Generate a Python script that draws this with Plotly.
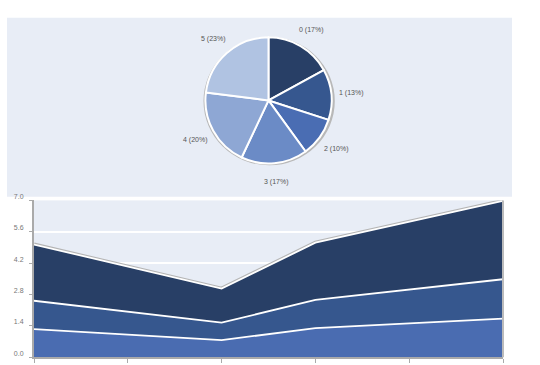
import math
import plotly.graph_objects as go

W, H = 540, 365

# ---- data ----
pie_labels = ["0", "1", "2", "3", "4", "5"]
pie_values = [17, 13, 10, 17, 20, 23]
pie_colors = ["#283f66", "#36578f", "#4a6db3", "#6b8bc6", "#8ea7d4", "#b0c3e2"]

area_x = [0, 2, 3, 5]
series1 = [1.25, 0.76, 1.30, 1.72]
series2 = [1.27, 0.78, 1.26, 1.76]
series3 = [2.51, 1.52, 2.55, 3.50]
area_colors = ["#4a6cb1", "#36578e", "#283f66"]

y_ticks = [0.0, 1.4, 2.8, 4.2, 5.6, 7.0]
x_ticks = [0, 1, 2, 3, 4, 5]


def px(x):
    return x / W


def py(y):
    return 1 - y / H


# pie geometry (pixels)
pcx, pcy, pr = 268.5, 94.5, 64.5

fig = go.Figure()
fig.add_trace(go.Pie(
    labels=pie_labels, values=pie_values, sort=False, direction="clockwise",
    rotation=0, textinfo="none", hoverinfo="label+percent", showlegend=False,
    marker=dict(colors=pie_colors, line=dict(color="white", width=2)),
    domain=dict(x=[px(pcx - pr), px(pcx + pr)], y=[py(pcy + pr), py(pcy - pr)]),
))

total = sum(pie_values)
annotations = []
cum = 0
for lab, v in zip(pie_labels, pie_values):
    mid = (cum + v / 2) / total * 2 * math.pi
    cum += v
    lx = pcx + 1.3 * pr * math.sin(mid)
    ly = pcy - 1.3 * pr * math.cos(mid)
    annotations.append(dict(
        x=px(lx), y=py(ly), xref="paper", yref="paper", showarrow=False,
        text=f"{lab} ({round(v / total * 100)}%)",
        font=dict(family="Liberation Sans", size=7, color="#555"),
        xanchor="center", yanchor="middle",
    ))

totals = [a + b + c for a, b, c in zip(series1, series2, series3)]
fig.add_trace(go.Scatter(
    x=area_x, y=totals, mode="lines", line=dict(color="#b5b5b5", width=4),
    showlegend=False, hoverinfo="skip", xaxis="x", yaxis="y",
))
for s, c in zip([series1, series2, series3], area_colors):
    fig.add_trace(go.Scatter(
        x=area_x, y=s, mode="lines", stackgroup="one", fillcolor=c,
        line=dict(color="white", width=1.8), showlegend=False,
        xaxis="x", yaxis="y",
    ))

x0, x1 = 34, 503
y_top, y_bot = 196.7, 357

fig.update_layout(
    width=W, height=H,
    margin=dict(l=0, r=0, t=0, b=0),
    paper_bgcolor="white",
    plot_bgcolor="#e8edf6",
    annotations=annotations,
    xaxis=dict(
        domain=[px(x0), px(x1)], range=[0, 5], tickvals=x_ticks,
        showticklabels=False, ticks="outside", ticklen=4, tickcolor="#aaa",
        showline=True, linecolor="#aaa", linewidth=2, showgrid=False,
        zeroline=False, fixedrange=True,
    ),
    yaxis=dict(
        domain=[py(y_bot), py(y_top)], range=[0, 7], tickvals=y_ticks,
        ticktext=[f"{t:.1f}" for t in y_ticks],
        ticks="outside", ticklen=3, tickcolor="#aaa",
        showline=True, linecolor="#aaa", linewidth=2,
        showgrid=True, gridcolor="white", gridwidth=1.5, zeroline=False,
        tickfont=dict(family="Liberation Sans", size=7, color="#777"),
        ticklabelshift=-4, ticklabelstandoff=4, fixedrange=True,
    ),
    shapes=[
        dict(type="rect", xref="paper", yref="paper", layer="below",
             x0=px(7), x1=px(512), y0=py(193), y1=py(10),
             fillcolor="#e8edf6", line=dict(width=0)),
        dict(type="circle", xref="paper", yref="paper", layer="below",
             x0=px(pcx - pr - 0.5), x1=px(pcx + pr + 1.8),
             y0=py(pcy + pr + 1.8), y1=py(pcy - pr - 0.5),
             fillcolor="#b8b8b8", line=dict(width=0)),
        dict(type="line", xref="x domain", yref="y domain",
             x0=1, x1=1, y0=0, y1=1, line=dict(color="#bbb", width=2)),
    ],
)

post = (
    "document.documentElement.style.margin='0';"
    "document.documentElement.style.padding='0';"
    "document.documentElement.style.overflow='hidden';"
    "document.body.style.margin='0';document.body.style.padding='0';"
    "document.body.style.overflow='hidden';document.body.style.height='365px';"
    "var d=document.getElementById('{plot_id}');"
    "d.style.position='absolute';d.style.top='0px';d.style.left='0px';"
)

fig.write_html("out.html", config=dict(displayModeBar=False), post_script=post)
